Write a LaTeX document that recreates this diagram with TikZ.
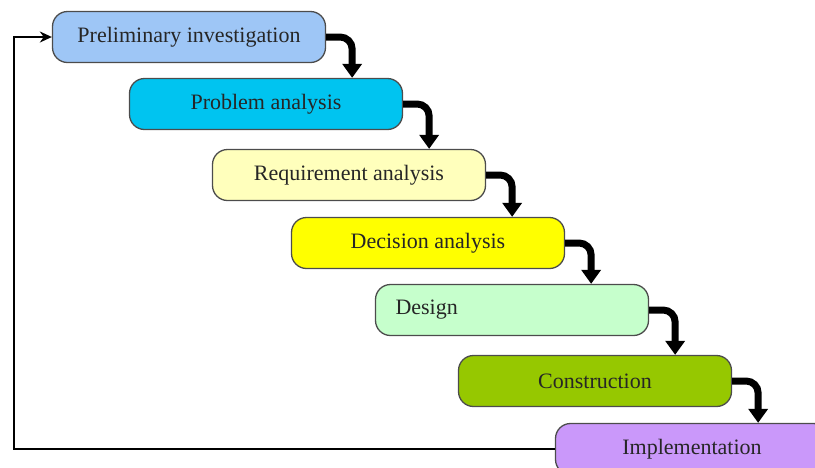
\documentclass[tikz,border=0pt]{standalone}
\usepackage{fontspec}
\setmainfont{Liberation Serif}
\usetikzlibrary{arrows.meta}
\definecolor{prelimblue}{RGB}{158,198,246}
\definecolor{problemcyan}{RGB}{0,196,240}
\definecolor{requireyellow}{RGB}{255,255,188}
\definecolor{decisionyellow}{RGB}{255,255,0}
\definecolor{designgreen}{RGB}{198,255,204}
\definecolor{constructgreen}{RGB}{150,200,0}
\definecolor{implementviolet}{RGB}{202,152,250}
\tikzset{>=Stealth,
  stage/.style={draw=black!70, line width=1.3pt, rounded corners=15pt,
    minimum width=273pt, minimum height=51pt, inner sep=0pt,
    font=\fontsize{22}{26}\selectfont, text=black!85},
  flow/.style={line width=7pt, rounded corners=12pt,
    -{Triangle[width=19pt,length=14pt]}},
  back/.style={line width=1.8pt, -{Stealth[width=11pt,length=12pt]}}}

\begin{document}
\begin{tikzpicture}[x=1pt,y=-1pt]
\useasboundingbox (0,0) rectangle (815,467);
\node[stage, fill=prelimblue] (prelim) at (189,37) {Preliminary investigation};
\node[stage, fill=problemcyan] (problem) at (266,104) {Problem analysis};
\node[stage, fill=requireyellow] (require) at (349,175) {Requirement analysis};
\node[stage, fill=decisionyellow] (decision) at (428,243) {Decision analysis};
\node[stage, fill=designgreen, text width=233pt, inner xsep=20pt, align=left] (design) at (512,310) {Design};
\node[stage, fill=constructgreen] (construct) at (595,381) {Construction};
\node[stage, fill=implementviolet] (implement) at (692,449) {Implementation};
\coordinate (loop) at (14,0);
% thick arrows down the steps
\draw[flow] (prelim.east) -| ([xshift=26pt]prelim.east |- problem.north);
\draw[flow] (problem.east) -| ([xshift=26pt]problem.east |- require.north);
\draw[flow] (require.east) -| ([xshift=26pt]require.east |- decision.north);
\draw[flow] (decision.east) -| ([xshift=26pt]decision.east |- design.north);
\draw[flow] (design.east) -| ([xshift=26pt]design.east |- construct.north);
\draw[flow] (construct.east) -| ([xshift=26pt]construct.east |- implement.north);
% back to the start
\draw[back] (implement.west) -| (loop |- prelim.west) -- (prelim.west);
\end{tikzpicture}
\end{document}
